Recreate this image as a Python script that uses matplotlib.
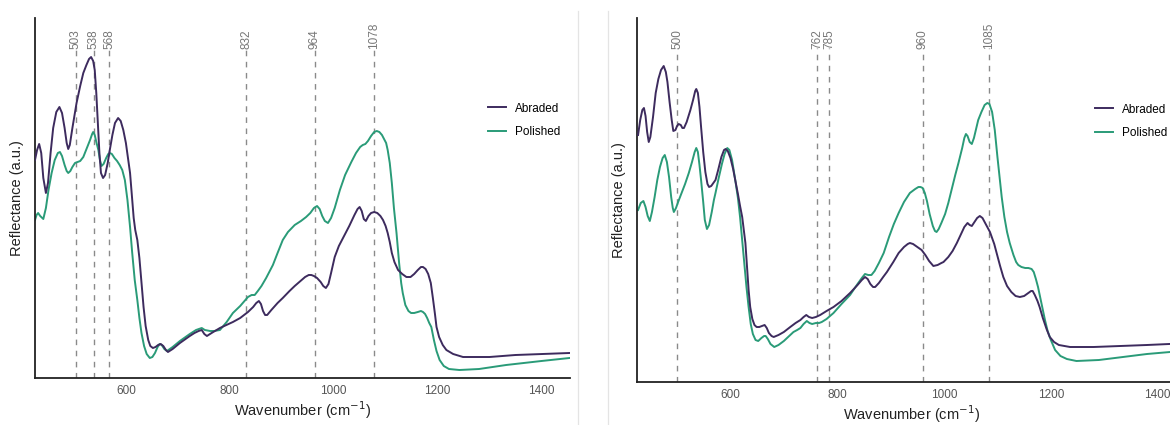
import matplotlib
matplotlib.use("Agg")
import matplotlib.pyplot as plt
from matplotlib.lines import Line2D

plt.rcParams['font.family'] = ['Liberation Sans', 'DejaVu Sans']

# ---- left panel data (wavenumber, reflectance a.u.) ----
left_abraded_x = [425, 429, 433, 437, 441, 446, 450, 455, 460, 466, 472, 477, 482, 486, 489, 492,
                  497, 505, 512, 518, 524, 529, 533, 537, 540, 543, 546, 549, 552, 556, 560, 565,
                  569, 574, 579, 585, 590, 595, 600, 604, 608, 612, 615, 618, 622, 626, 630, 634,
                  638, 643, 647, 652, 657, 662, 667, 672, 677, 681, 690, 704, 715, 723, 732, 740,
                  746, 751, 756, 765, 781, 806, 820, 835, 845, 851, 856, 860, 864, 868, 872, 880,
                  892, 902, 915, 925, 934, 945, 952, 957, 962, 968, 975, 980, 985, 990, 995, 1002,
                  1010, 1021, 1030, 1040, 1046, 1050, 1054, 1058, 1062, 1067, 1072, 1078, 1084,
                  1090, 1095, 1100, 1104, 1108, 1112, 1117, 1124, 1132, 1140, 1148, 1155, 1162,
                  1168, 1172, 1177, 1182, 1187, 1191, 1195, 1198, 1203, 1210, 1217, 1230, 1249,
                  1300, 1350, 1400, 1454]
left_abraded_y = [218, 228, 234, 225, 200, 185, 195, 225, 250, 266, 271, 265, 250, 235, 229, 233,
                  250, 275, 292, 305, 313, 319, 321, 317, 308, 285, 255, 225, 205, 200, 203, 215,
                  228, 243, 255, 260, 257, 248, 235, 220, 205, 180, 160, 148, 138, 120, 95, 71,
                  52, 38, 32, 30, 31, 33, 34, 32, 28, 26, 29, 35, 39, 42, 45, 47,
                  48, 44, 42, 45, 50, 56, 60, 66, 71, 75, 77, 74, 67, 63, 63, 68,
                  75, 80, 87, 92, 96, 101, 103, 103, 102, 100, 96, 92, 90, 94, 105, 121,
                  132, 143, 152, 163, 169, 171, 167, 159, 157, 162, 165, 166, 165,
                  162, 158, 152, 145, 136, 125, 116, 108, 104, 101, 101, 104, 108,
                  111, 111, 109, 104, 95, 80, 64, 51, 41, 33, 28, 24, 21,
                  21, 23, 24, 25]

left_polished_x = [425, 428, 431, 435, 441, 446, 451, 457, 463, 469, 473, 477, 482, 486, 489, 493,
                   497, 502, 507, 512, 518, 525, 531, 535, 537, 540, 543, 547, 550, 553, 557, 562,
                   566, 569, 573, 578, 583, 588, 593, 598, 603, 608, 612, 617, 622, 626, 630, 635,
                   640, 646, 651, 656, 661, 665, 669, 674, 679, 690, 704, 715, 723, 735, 746, 752,
                   762, 770, 781, 794, 806, 820, 835, 842, 848, 854, 861, 870, 883, 892, 902, 912,
                   925, 937, 947, 955, 962, 968, 973, 978, 983, 989, 995, 1002, 1012, 1022, 1034,
                   1043, 1051, 1056, 1061, 1066, 1072, 1078, 1083, 1088, 1093, 1098, 1101, 1104,
                   1108, 1112, 1116, 1121, 1126, 1130, 1133, 1138, 1144, 1149, 1155, 1162, 1168,
                   1172, 1176, 1180, 1184, 1188, 1193, 1198, 1204, 1212, 1222, 1242, 1280, 1332,
                   1400, 1454]
left_polished_y = [158, 163, 165, 162, 159, 170, 188, 205, 218, 225, 226, 222, 213, 207, 205, 207,
                   211, 215, 216, 217, 221, 230, 238, 244, 246, 243, 236, 228, 218, 212, 214, 220,
                   224, 225, 224, 220, 217, 213, 208, 198, 178, 151, 126, 98, 78, 60, 45, 32,
                   24, 20, 21, 25, 31, 34, 33, 29, 27, 31, 37, 41, 44, 48, 50, 48,
                   47, 47, 48, 56, 65, 72, 81, 83, 83, 87, 92, 100, 113, 125, 138, 146,
                   153, 157, 161, 165, 170, 172, 169, 162, 157, 155, 160, 170, 188, 203, 216,
                   225, 231, 233, 234, 237, 242, 246, 247, 246, 243, 238, 235, 228,
                   215, 195, 170, 145, 115, 95, 85, 73, 67, 65, 65, 66, 67,
                   66, 64, 60, 55, 51, 38, 27, 18, 12, 9, 8, 9, 13,
                   17, 20]

left_peaks = [503, 538, 568, 832, 964, 1078]

# ---- right panel data ----
right_abraded_x = [427, 431, 435, 438, 441, 444, 447, 450, 455, 460, 465, 470, 475, 479, 482, 486,
                   490, 493, 497, 500, 503, 507, 510, 513, 518, 525, 530, 534, 536, 539, 542, 545,
                   549, 553, 557, 560, 564, 568, 572, 577, 583, 588, 591, 595, 600, 605, 609, 614,
                   618, 622, 625, 628, 631, 634, 637, 641, 645, 649, 654, 659, 664, 668, 672, 677,
                   681, 690, 700, 712, 722, 731, 737, 742, 747, 753, 760, 768, 780, 793, 808, 824,
                   838, 846, 852, 857, 862, 867, 871, 878, 886, 893, 905, 915, 925, 932, 936, 942,
                   950, 958, 965, 972, 980, 988, 995, 999, 1008, 1016, 1024, 1032, 1038, 1044,
                   1048, 1052, 1057, 1062, 1067, 1072, 1078, 1086, 1094, 1100, 1105, 1111, 1118,
                   1126, 1134, 1142, 1150, 1158, 1163, 1166, 1170, 1175, 1179, 1185, 1192, 1198,
                   1206, 1215, 1236, 1280, 1330, 1380, 1422, 1460]
right_abraded_y = [247, 262, 272, 274, 266, 250, 240, 245, 265, 289, 303, 312, 316, 310, 300, 280,
                   262, 251, 252, 256, 258, 257, 254, 254, 260, 272, 282, 291, 293, 289, 275, 255,
                   230, 210, 198, 195, 196, 199, 202, 212, 225, 232, 233, 231, 224, 213, 202, 188,
                   176, 165, 152, 139, 115, 92, 75, 63, 57, 55, 55, 56, 57, 54, 49, 46,
                   45, 47, 50, 55, 59, 62, 65, 67, 65, 64, 65, 67, 71, 75, 81, 89,
                   97, 102, 105, 103, 98, 95, 95, 99, 105, 110, 120, 129, 135, 138, 139, 138,
                   135, 132, 127, 121, 116, 117, 119, 120, 125, 131, 139, 148, 155, 159,
                   157, 156, 160, 164, 166, 164, 158, 150, 138, 126, 116, 105, 96,
                   90, 86, 85, 86, 89, 91, 91, 87, 81, 75, 64, 53, 45,
                   40, 37, 35, 35, 36, 37, 38, 39]

right_polished_x = [427, 432, 437, 441, 445, 449, 453, 458, 463, 468, 473, 477, 481, 485, 489, 492,
                    494, 498, 502, 507, 515, 522, 528, 533, 536, 539, 542, 545, 549, 552, 556, 560,
                    565, 569, 572, 578, 584, 589, 594, 598, 603, 609, 614, 618, 622, 626, 630, 634,
                    638, 642, 647, 652, 658, 663, 666, 670, 675, 682, 690, 700, 710, 718, 725, 731,
                    737, 743, 748, 753, 760, 766, 771, 780, 793, 808, 824, 838, 846, 852, 858, 864,
                    870, 878, 887, 897, 906, 915, 925, 936, 946, 952, 956, 960, 964, 968, 973, 979,
                    983, 986, 990, 995, 1002, 1008, 1015, 1021, 1027, 1034, 1038, 1041, 1044, 1048,
                    1052, 1056, 1060, 1064, 1070, 1076, 1081, 1085, 1090, 1095, 1100, 1104, 1108,
                    1113, 1118, 1123, 1130, 1135, 1139, 1145, 1152, 1158, 1164, 1168, 1172, 1176,
                    1180, 1185, 1189, 1194, 1200, 1208, 1218, 1230, 1248, 1290, 1335, 1380, 1422,
                    1460]
right_polished_y = [172, 179, 181, 175, 166, 161, 170, 185, 202, 215, 224, 227, 220, 205, 185, 174,
                    170, 174, 180, 187, 198, 209, 220, 230, 234, 230, 217, 202, 180, 162, 153, 157,
                    170, 182, 189, 204, 218, 228, 234, 232, 222, 202, 184, 165, 142, 118, 95, 75,
                    58, 48, 42, 41, 44, 46, 46, 43, 38, 35, 37, 41, 46, 50, 52, 54,
                    58, 61, 59, 58, 59, 59, 60, 63, 69, 78, 87, 98, 104, 108, 107, 107,
                    111, 119, 129, 145, 158, 169, 180, 189, 193, 195, 195, 194, 189, 181, 168, 156,
                    151, 150, 153, 159, 168, 179, 194, 207, 219, 234, 244, 248, 246, 240,
                    238, 244, 253, 262, 270, 277, 279, 278, 270, 252, 225, 205, 185,
                    165, 150, 139, 127, 120, 117, 115, 114, 114, 113, 110, 103, 95,
                    85, 72, 62, 51, 42, 32, 26, 23, 21, 22, 25, 28, 30,
                    31]

right_peaks = [500, 762, 785, 960, 1085]

ABRADED = '#3d2b5e'
POLISHED = '#2a9b78'
GRID = '#8a8a8a'

fig = plt.figure(figsize=(11.7, 4.25), dpi=100)
ax_l = fig.add_axes([35 / 1170, 47 / 425, 535 / 1170, 360 / 425])
ax_r = fig.add_axes([637 / 1170, 43 / 425, 550 / 1170, 364 / 425])

# faint separators between the two images
for xp in (578, 608):
    fig.add_artist(Line2D([xp / 1170, xp / 1170], [0, 1 - 11 / 425],
                          transform=fig.transFigure, color='#e4e4e4', lw=0.9))


def draw_panel(ax, ab_x, ab_y, po_x, po_y, peaks, ytop, leg_x):
    for p in peaks:
        ax.plot([p, p], [0, ytop - 30], color=GRID, lw=1.0, ls=(0, (4, 4)), zorder=1)
        ax.text(p, ytop - 31, str(p), rotation=90, ha='center', va='bottom',
                fontsize=8.5, color='#777777')
    ax.plot(ab_x, ab_y, color=ABRADED, lw=1.4, label='Abraded', zorder=3)
    ax.plot(po_x, po_y, color=POLISHED, lw=1.4, label='Polished', zorder=2)

    ax.set_xlim(425, 1455)
    ax.set_ylim(0, ytop)
    ax.set_xticks([600, 800, 1000, 1200, 1400])
    ax.set_yticks([])
    ax.tick_params(axis='x', length=0, pad=5, labelsize=8.5, labelcolor='#555555')
    for s in ('top', 'right'):
        ax.spines[s].set_visible(False)
    for s in ('left', 'bottom'):
        ax.spines[s].set_linewidth(1.3)
        ax.spines[s].set_color('#222222')
    ax.set_xlabel('Wavenumber (cm$^{-1}$)', fontsize=10.5, color='#222222', labelpad=2)
    ax.set_ylabel('Reflectance (a.u.)', fontsize=10.5, color='#222222', labelpad=8)

    ax.legend(loc='upper left', bbox_to_anchor=(leg_x, 0.765), frameon=False,
              fontsize=8.5, handlelength=1.5, handletextpad=0.8, labelspacing=0.95,
              borderpad=0, borderaxespad=0)


draw_panel(ax_l, left_abraded_x, left_abraded_y, left_polished_x, left_polished_y,
           left_peaks, 360, 453 / 535)
draw_panel(ax_r, right_abraded_x, right_abraded_y, right_polished_x, right_polished_y,
           right_peaks, 364, 458 / 550)

fig.savefig('out.png', dpi=100)
